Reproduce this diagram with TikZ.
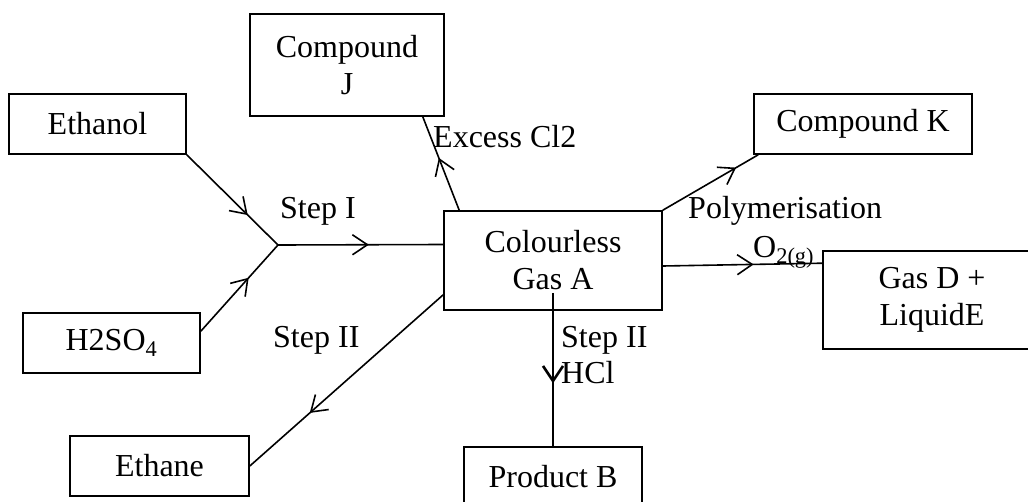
\documentclass[tikz,border=0pt]{standalone}
\usepackage{fontspec}
\setmainfont{Liberation Serif}
\usetikzlibrary{arrows.meta,decorations.markings}
\tikzstyle{ChemBox}=[rectangle, draw=black, line width=1.6pt, inner sep=0pt, align=center, font=\fontsize{32}{37}\selectfont]
\tikzstyle{CondLabel}=[inner sep=0pt, anchor=base west, font=\fontsize{32}{37}\selectfont]
\tikzstyle{Linea}=[line width=1.6pt]
\tikzset{MidArrow/.style={Linea, postaction={decorate}, decoration={markings, mark=at position #1 with {\arrow{Straight Barb[length=15pt,width=20pt]}}}}}

\begin{document}
\begin{tikzpicture}[x=1pt, y=-1pt]
			\useasboundingbox (0,0) rectangle (1028,501);
			\clip (0,0) rectangle (1028,501);

			%Nodes
			\node[ChemBox, minimum width=177pt, minimum height=60pt]	(ethanol)	at (97.5,124)	{Ethanol};
			\node[ChemBox, minimum width=177pt, minimum height=60pt]	(acid)		at (111.5,343)	{H2SO\textsubscript{4}};
			\node[ChemBox, minimum width=179pt, minimum height=60pt]	(ethane)	at (159.5,466)	{Ethane};
			\node[ChemBox, minimum width=194pt, minimum height=102pt]	(compJ)		at (347,65)		{Compound\\J};
			\node[ChemBox, minimum width=218pt, minimum height=99pt]	(gasA)		at (553,260.5)	{Colourless\\Gas A};
			\node[ChemBox, minimum width=218pt, minimum height=60pt]	(compK)		at (863,124)	{Compound K};
			\node[ChemBox, minimum width=218pt, minimum height=98pt]	(gasD)		at (932,300)	{Gas D +\\LiquidE};
			\node[ChemBox, minimum width=178pt, minimum height=60pt]	(prodB)		at (553,477)	{Product B};
			\coordinate (join) at (278,245);

			%Labels
			\node[CondLabel]	(stepOne)	at (280,218)	{Step I};
			\node[CondLabel]	(chlorine)	at (433,147)	{Excess Cl2};
			\node[CondLabel]	(poly)		at (688,218)	{Polymerisation};
			\node[CondLabel]	(oxygen)	at (753,257)	{O\textsubscript{2(g)}};
			\node[CondLabel]	(stepTwoL)	at (273,347)	{Step II};
			\node[CondLabel]	(stepTwoR)	at (561,347)	{Step II};
			\node[CondLabel]	(hcl)		at (561,383)	{HCl};

			%Lines
			\draw[MidArrow=0.67] (ethanol.south east) -- (join);
			\draw[MidArrow=0.62] ([yshift=-19pt]acid.north east) -- (join);
			\draw[MidArrow=0.55] (join) -- ([yshift=16pt]gasA.west);
			\draw[MidArrow=0.56] ([xshift=16pt]gasA.north west) -- ([xshift=-22pt]compJ.south east);
			\draw[MidArrow=0.77] (gasA.north east) -- ([xshift=5pt]compK.south west);
			\draw[MidArrow=0.57] ([yshift=-5.5pt]gasA.east) -- ([yshift=-13pt]gasD.north west);
			\draw[MidArrow=0.69] ([yshift=16pt]gasA.south west) -- (ethane.east);
			\draw[MidArrow=0.59, line width=2.6pt] ([yshift=18pt]gasA.south) -- (prodB.north);

		\end{tikzpicture}
\end{document}
